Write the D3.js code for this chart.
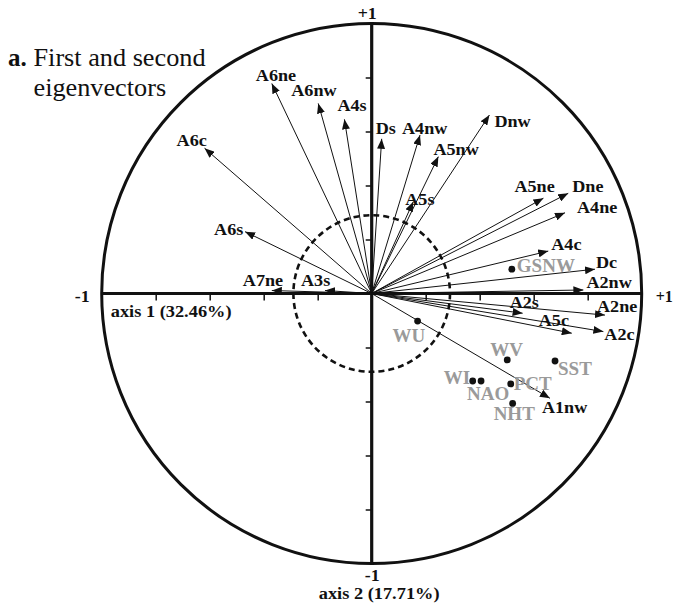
<!DOCTYPE html>
<html>
<head>
<meta charset="utf-8">
<script src="https://cdn.jsdelivr.net/npm/d3@7"></script>
<style>
  html, body { margin: 0; padding: 0; background: #fff; }
  svg { display: block; }
  text { font-family: "Liberation Serif", "Times New Roman", serif; }
</style>
</head>
<body>
<svg id="chart" width="673" height="606"></svg>
<script>
// ---- Data (loadings on eigenvectors 1 and 2) ----
const vectorNames = ["A6ne","A6nw","A4s","Ds","A4nw","A5nw","Dnw","A5s","A5ne","Dne","A4ne","A4c","Dc","A2nw","A6c","A6s","A7ne","A3s","A2s","A2ne","A5c","A2c","A1nw"];
const vectorAxis1 = [-0.370,-0.198,-0.101,0.037,0.179,0.247,0.436,0.154,0.636,0.728,0.716,0.654,0.827,0.784,-0.619,-0.469,-0.370,-0.173,0.559,0.864,0.741,0.858,0.660];
const vectorAxis2 = [0.778,0.704,0.645,0.573,0.587,0.507,0.661,0.340,0.353,0.371,0.299,0.157,0.090,0.013,0.538,0.229,0.011,0.011,-0.073,-0.080,-0.147,-0.141,-0.388];

const suppNames = ["GSNW","WU","WV","SST","WI","NAO","PCT","NHT"];
const suppAxis1 = [0.519,0.170,0.502,0.679,0.374,0.405,0.515,0.522];
const suppAxis2 = [0.090,-0.102,-0.246,-0.250,-0.324,-0.324,-0.335,-0.407];

const tickValues = [-0.8,-0.6,-0.4,-0.2,0.2,0.4,0.6,0.8];
const thresholdRadius = 0.29;
const axis1Title = "axis 1 (32.46%)";
const axis2Title = "axis 2 (17.71%)";

// ---- Label placement (pixel offsets from the arrow tip / dot) ----
const vecLabelOffset = {
  A6ne:[-16,-2], A6nw:[-27,-7], A4s:[-7,-8], Ds:[-6,-5], A4nw:[-18,-1], A5nw:[-5,-2],
  Dnw:[5,12], A5s:[-8,3], A5ne:[-29,-6], Dne:[4,-1], A4ne:[12,0], A4c:[3,-1],
  Dc:[1,-1], A2nw:[3,-2], A6c:[-28,-2], A6s:[-31,3], A7ne:[-29,-4.5], A3s:[-24,-4.5],
  A2s:[-13,-5], A2ne:[-8,-3], A5c:[-33,-7], A2c:[1,8], A1nw:[-8,15]
};
const suppLabelOffset = {
  GSNW:[5,3], WU:[-25,21], WV:[-17,-4], SST:[3,14], WI:[-29,3], NAO:[-14,19], PCT:[3,6], NHT:[-19,17]
};

// ---- Layout ----
const cx = 371.7, cy = 293.5, R = 270;
const x = d3.scaleLinear().domain([-1, 1]).range([cx - R, cx + R]);
const y = d3.scaleLinear().domain([-1, 1]).range([cy + R, cy - R]);

const svg = d3.select("#chart");

svg.append("defs").append("marker")
  .attr("id", "arrow")
  .attr("viewBox", "0 0 10 8")
  .attr("refX", 10).attr("refY", 4)
  .attr("markerWidth", 10).attr("markerHeight", 8)
  .attr("markerUnits", "userSpaceOnUse")
  .attr("orient", "auto")
  .append("path").attr("d", "M0,0 L10,4 L0,8 Z").attr("fill", "#111");

// Outer circle
svg.append("circle")
  .attr("cx", x(0)).attr("cy", y(0)).attr("r", x(1) - x(0))
  .attr("fill", "none").attr("stroke", "#111").attr("stroke-width", 3);

// Threshold dashed circle
svg.append("circle")
  .attr("cx", x(0)).attr("cy", y(0)).attr("r", x(thresholdRadius) - x(0))
  .attr("fill", "none").attr("stroke", "#111").attr("stroke-width", 2.6)
  .attr("stroke-dasharray", "6,4");

// Axes ticks
const xAxis = d3.axisBottom(x).tickValues(tickValues).tickSize(7).tickFormat("");
const gx = svg.append("g").attr("transform", `translate(0,${y(0)})`).call(xAxis);
gx.select(".domain").remove();
gx.selectAll(".tick line").attr("stroke", "#111").attr("stroke-width", 1.5);

const yAxis = d3.axisLeft(y).tickValues(tickValues).tickSize(6).tickFormat("");
const gy = svg.append("g").attr("transform", `translate(${x(0)},0)`).call(yAxis);
gy.select(".domain").remove();
gy.selectAll(".tick line").attr("stroke", "#111").attr("stroke-width", 1.5);

// Main axis lines
svg.append("line").attr("x1", x(-1)).attr("x2", x(1)).attr("y1", y(0)).attr("y2", y(0))
  .attr("stroke", "#111").attr("stroke-width", 3.2);
svg.append("line").attr("x1", x(0)).attr("x2", x(0)).attr("y1", y(1)).attr("y2", y(-1))
  .attr("stroke", "#111").attr("stroke-width", 3.2);

// Vectors
const vectors = vectorNames.map((n, i) => ({ name: n, a1: vectorAxis1[i], a2: vectorAxis2[i] }));
svg.append("g").selectAll("line").data(vectors).join("line")
  .attr("x1", x(0)).attr("y1", y(0))
  .attr("x2", d => x(d.a1)).attr("y2", d => y(d.a2))
  .attr("stroke", "#111").attr("stroke-width", 1)
  .attr("marker-end", "url(#arrow)");

svg.append("g").selectAll("text").data(vectors).join("text")
  .attr("transform", d => {
    const o = vecLabelOffset[d.name];
    return `translate(${x(d.a1) + o[0]},${y(d.a2) + o[1]}) scale(1.1,1)`;
  })
  .attr("font-size", 16.5).attr("font-weight", "bold").attr("fill", "#111")
  .text(d => d.name);

// Supplementary variables
const supp = suppNames.map((n, i) => ({ name: n, a1: suppAxis1[i], a2: suppAxis2[i] }));
svg.append("g").selectAll("circle").data(supp).join("circle")
  .attr("cx", d => x(d.a1)).attr("cy", d => y(d.a2)).attr("r", 3.4).attr("fill", "#111");
svg.append("g").selectAll("text").data(supp).join("text")
  .attr("x", d => x(d.a1) + suppLabelOffset[d.name][0])
  .attr("y", d => y(d.a2) + suppLabelOffset[d.name][1])
  .attr("font-size", 19).attr("font-weight", "bold").attr("fill", "#9a9a9a")
  .text(d => d.name);

// End labels
function label(t, px, py, size, anchor, sx) {
  svg.append("text")
    .attr("transform", `translate(${px},${py}) scale(${sx || 1},1)`)
    .attr("text-anchor", anchor || "start")
    .attr("font-size", size).attr("font-weight", "bold").attr("fill", "#111")
    .text(t);
}
label("+1", x(0) - 14, y(1) - 5, 17, "start", 1.05);
label("-1", x(0) - 7, y(-1) + 17, 17, "start", 1.05);
label("-1", x(-1) - 27, y(0) + 8, 17, "start", 1.05);
label("+1", x(1) + 14, y(0) + 8, 16, "start", 1);
label(axis1Title, x(-1) + 9, y(0) + 23, 17, "start", 1.08);
label(axis2Title, x(0) - 53, y(-1) + 35, 17, "start", 1.08);

// Title
svg.append("text").attr("x", 8).attr("y", 65.5).attr("font-size", 25).attr("font-weight", "bold").attr("fill", "#111").text("a.");
svg.append("text").attr("transform", "translate(33.5,65.5) scale(1.05,1)").attr("font-size", 25).attr("fill", "#111").text("First and second");
svg.append("text").attr("transform", "translate(33.5,96) scale(1.05,1)").attr("font-size", 25).attr("fill", "#111").text("eigenvectors");
</script>
</body>
</html>
